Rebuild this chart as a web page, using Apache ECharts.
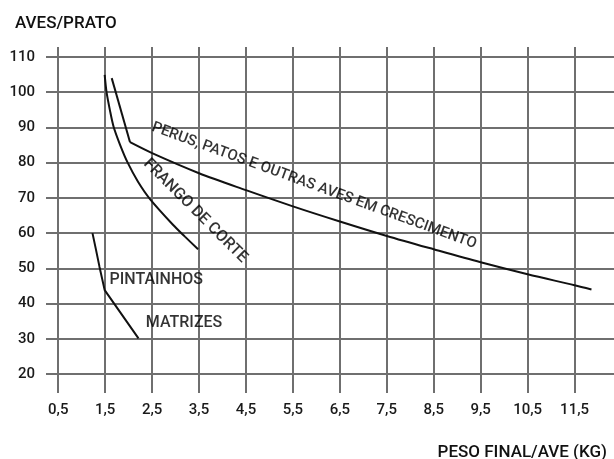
<!DOCTYPE html>
<html><head><meta charset="utf-8">
<script src="https://cdn.jsdelivr.net/npm/echarts@6/dist/echarts.min.js"></script>
<style>html,body{margin:0;padding:0;background:#fff}#c{width:614px;height:459px}</style>
</head><body><div id="c"></div>
<script>
const xTicks = [0.5,1.5,2.5,3.5,4.5,5.5,6.5,7.5,8.5,9.5,10.5,11.5];
const yTicks = [20,30,40,50,60,70,80,90,100,110];
const perusStart = [[1.64,104],[2.03,85.8]];
const perusCurve = [[2.03,85.8],[2.5,82.7],[3.5,77.0],[4.5,72.2],[5.5,67.6],[6.5,63.3],[7.5,59.2],[8.5,55.4],[9.5,51.7],[10.5,48.3],[11.5,45.2],[11.86,44.0]];
const frango = [[1.49,104.9],[1.53,100],[1.6,95],[1.68,90.2],[1.82,85],[1.98,80],[2.2,74.6],[2.46,69.6],[2.95,62.3],[3.2,59.0],[3.48,55.4]];
const pintainhos = [[1.23,60],[1.30,55.6],[1.38,50.4],[1.49,43.8],[2.21,30.1]];
const curveLabels = [
  {name:'PERUS, PATOS E OUTRAS AVES EM CRESCIMENTO', value:[5.95,73.4], rot:-20, size:15},
  {name:'FRANGO DE CORTE', value:[3.42,66.3], rot:-45, size:16},
  {name:'PINTAINHOS', value:[2.59,46.8], rot:0, size:16},
  {name:'MATRIZES', value:[3.18,34.4], rot:0, size:16}
];
const FONT = 'Roboto, sans-serif';
const chart = echarts.init(document.getElementById('c'));
const lineStyle = {color:'#111', width:2};
const mk = (d, smooth) => ({type:'line', data:d, smooth:smooth, symbol:'none', lineStyle:lineStyle, silent:true, z:3});
chart.setOption({
  animation:false,
  title:[
    {text:'AVES/PRATO', left:10, top:10, textStyle:{fontFamily:FONT, fontSize:17, fontWeight:500, color:'#111'}},
    {text:'PESO FINAL/AVE (KG)', right:2, top:439, textStyle:{fontFamily:FONT, fontSize:17, fontWeight:500, color:'#111'}}
  ],
  grid:{left:46, right:0, top:47, bottom:66, containLabel:false},
  xAxis:{type:'value', min:0.24, max:12.34,
    axisLine:{show:false},
    axisTick:{show:false, customValues:xTicks},
    axisLabel:{customValues:xTicks, margin:10, fontFamily:FONT, fontSize:15, fontWeight:500, color:'#1a1a1a', formatter:v=>String(v).replace('.',',')},
    splitLine:{show:true, lineStyle:{color:'#6f6f6f', width:2}}
  },
  yAxis:{type:'value', min:14.6, max:112.84,
    axisLine:{show:false},
    axisTick:{show:false, customValues:yTicks},
    axisLabel:{customValues:yTicks, margin:11, fontFamily:FONT, fontSize:15, fontWeight:500, color:'#1a1a1a'},
    splitLine:{show:true, lineStyle:{color:'#6f6f6f', width:2}}
  },
  series:[
    mk(perusStart,false), mk(perusCurve,0.3), mk(frango,0.3), mk(pintainhos,false),
    {type:'scatter', symbolSize:0, silent:true, z:4, itemStyle:{color:'#000'},
     data:curveLabels.map(c=>({name:c.name, value:c.value, label:{rotate:c.rot, fontSize:c.size}})),
     label:{show:true, position:'inside', formatter:p=>p.name, fontFamily:FONT, fontSize:16, fontWeight:500, color:'#000', textBorderWidth:0}}
  ]
});
</script></body></html>
